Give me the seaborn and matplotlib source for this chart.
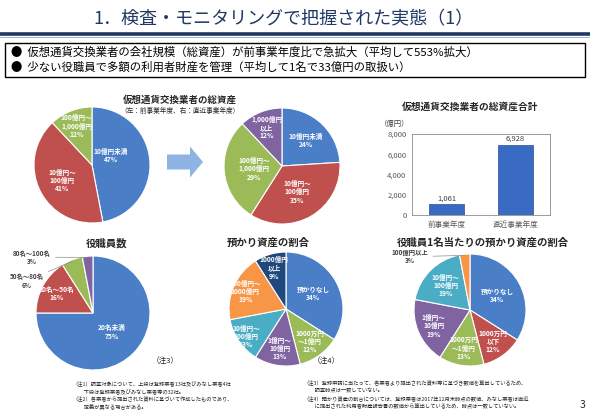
import numpy as np
import pandas as pd
import matplotlib
matplotlib.use("Agg")
import matplotlib.pyplot as plt
import matplotlib.patches as mpatches
import seaborn as sns

W, H = 590, 417

# ---- data ----
prev_asset_labels = ["10億円未満", "10億円～\n100億円", "100億円～\n1,000億円"]
prev_asset_share = [47, 41, 12]

curr_asset_labels = ["10億円未満", "10億円～\n100億円", "100億円～\n1,000億円", "1,000億円\n以上"]
curr_asset_share = [24, 35, 29, 12]

total_years = ["前事業年度", "直近事業年度"]
total_assets = [1061, 6928]
total_ticks = [0, 2000, 4000, 6000, 8000]

staff_labels = ["20名未満", "20名～50名", "50名～80名", "80名～100名"]
staff_share = [75, 16, 6, 3]

deposit_labels = ["預かりなし", "1000万円\n～1億円", "1億円～\n10億円", "10億円～\n100億円",
                  "100億円～\n1000億円", "1000億円\n以上"]
deposit_share = [34, 12, 13, 13, 19, 9]

per_staff_labels = ["預かりなし", "1000万円\n以下", "1000万円\n～1億円", "1億円～\n10億円",
                    "10億円～\n100億円", "100億円以上"]
per_staff_share = [34, 12, 13, 19, 19, 3]

BLUE, RED, GREEN, PURPLE = "#4A7EC7", "#C0504D", "#9BBB59", "#8064A2"
CYAN, ORANGE, NAVY = "#4BACC6", "#F79646", "#1F497D"

sns.set_style("white")
plt.rcParams["font.family"] = ["Noto Sans CJK JP", "DejaVu Sans"]

fig = plt.figure(figsize=(W / 100, H / 100), dpi=100)


def pix_axes(x0, y0, w, h):
    """Axes placed by pixel box (top-left origin)."""
    return fig.add_axes([x0 / W, 1 - (y0 + h) / H, w / W, h / H])


# background layer for slide decorations
bg = pix_axes(0, 0, W, H)
bg.set_xlim(0, W)
bg.set_ylim(H, 0)
bg.axis("off")

bg.text(283, 19, "1．検査・モニタリングで把握された実態（1）", ha="center", va="center",
        fontsize=13, color="#1F3864")
bg.plot([0, W], [34, 34], color="#1F3864", lw=2.6, solid_capstyle="butt")
bg.plot([0, W], [36.5, 36.5], color="#8497B0", lw=0.5)

bg.add_patch(mpatches.Rectangle((5, 43), 580, 34, fill=False, edgecolor="black", lw=1))
bg.text(11, 52.5, "●  仮想通貨交換業者の会社規模（総資産）が前事業年度比で急拡大（平均して553%拡大）",
        ha="left", va="center", fontsize=8.2, color="black")
bg.text(11, 67.5, "●  少ない役職員で多額の利用者財産を管理（平均して1名で33億円の取扱い）",
        ha="left", va="center", fontsize=8.2, color="black")

bg.text(180, 100, "仮想通貨交換業者の総資産", ha="center", va="center", fontsize=6.8,
        fontweight="bold", color="#262626")
bg.text(180, 111, "（左：前事業年度、右：直近事業年度）", ha="center", va="center", fontsize=4.8,
        color="#262626")
bg.text(470, 107, "仮想通貨交換業者の総資産合計", ha="center", va="center", fontsize=7,
        fontweight="bold", color="#262626")
bg.text(395, 124, "（億円）", ha="center", va="center", fontsize=5.3, color="#404040")

bg.text(107, 243, "役職員数", ha="center", va="center", fontsize=7.5, fontweight="bold", color="#262626")
bg.text(268, 243, "預かり資産の割合", ha="center", va="center", fontsize=7.5, fontweight="bold",
        color="#262626")
bg.text(483, 243, "役職員1名当たりの預かり資産の割合", ha="center", va="center", fontsize=7.5,
        fontweight="bold", color="#262626")

bg.text(165, 361, "（注3）", ha="center", va="center", fontsize=5.5, color="#262626")
bg.text(326, 361, "（注4）", ha="center", va="center", fontsize=5.5, color="#262626")

bg.add_patch(mpatches.FancyArrow(167, 162, 36, 0, width=15, head_width=31, head_length=13,
                                 length_includes_head=True, color="#8EB4E3", lw=0))

notes_left = ["（注1）調査対象について、上段は登録業者13社及びみなし業者4社",
              "　　 下段は登録業者及びみなし業者等の32社。",
              "（注2）各業者から提出された資料に基づいて作成したものであり、",
              "　　 定義が異なる場合がある。"]
notes_right = ["（注3）登録申請に当たって、各業者より提出された資料等に基づき数値を算出しているため、",
               "　　 調査時点は一致していない。",
               "（注4）預かり資産の割合については、登録業者は2017年12月末時点の数値、みなし業者は直近",
               "　　 に提出された利用者財産報告書の数値から算出しているため、時点は一致していない。"]
for i, line in enumerate(notes_left):
    bg.text(72, 383 + 8 * i, line, ha="left", va="center", fontsize=3.8, color="#262626")
for i, line in enumerate(notes_right):
    bg.text(303, 383 + 8 * i, line, ha="left", va="center", fontsize=3.8, color="#262626")
bg.text(583, 405, "3", ha="center", va="center", fontsize=7.5, color="#262626")


def draw_pie(cx, cy, r, shares, labels, colors, dists, outside=None, nudge=None):
    ax = pix_axes(cx - r, cy - r, 2 * r, 2 * r)
    wedges, _ = ax.pie(shares, colors=colors, startangle=90, counterclock=False,
                       wedgeprops=dict(edgecolor="white", linewidth=0.8))
    ax.set_xlim(-1, 1)
    ax.set_ylim(-1, 1)
    outside = outside or {}
    nudge = nudge or {}
    for i, (w, lab, v) in enumerate(zip(wedges, labels, shares)):
        txt = "{}\n{}%".format(lab, v)
        mid = np.deg2rad((w.theta1 + w.theta2) / 2 + nudge.get(i, 0))
        if i in outside:
            ax.annotate(txt, xy=(0.98 * np.cos(mid), 0.98 * np.sin(mid)), xytext=outside[i],
                        ha="center", va="center", fontsize=4.6, fontweight="bold",
                        color="#404040", linespacing=1.2, annotation_clip=False,
                        arrowprops=dict(arrowstyle="-", color="#8c8c8c", lw=0.5,
                                        shrinkA=1, shrinkB=0))
        else:
            d = dists[i]
            ax.text(d * np.cos(mid), d * np.sin(mid), txt, ha="center", va="center",
                    fontsize=4.8, fontweight="bold", color="white", linespacing=1.2)
    return ax


draw_pie(92, 165, 58, prev_asset_share, prev_asset_labels, [BLUE, RED, GREEN],
         [0.36, 0.58, 0.72], nudge={0: 22})
draw_pie(282, 166, 58, curr_asset_share, curr_asset_labels, [BLUE, RED, GREEN, PURPLE],
         [0.6, 0.52, 0.48, 0.72])
draw_pie(93, 313, 57, staff_share, staff_labels, [BLUE, RED, GREEN, PURPLE],
         [0.47, 0.72, 0, 0], outside={2: (-1.16, 0.56), 3: (-1.07, 0.98)})
draw_pie(286, 309, 57, deposit_share, deposit_labels, [BLUE, GREEN, PURPLE, CYAN, ORANGE, NAVY],
         [0.55, 0.7, 0.7, 0.85, 0.78, 0.75])
draw_pie(470, 310, 56, per_staff_share, per_staff_labels, [BLUE, RED, GREEN, PURPLE, CYAN, ORANGE],
         [0.55, 0.7, 0.69, 0.71, 0.62, 0], outside={5: (-1.07, 0.95)})

# bar chart of total assets
axb = pix_axes(412, 134, 138, 81)
df = pd.DataFrame({"year": total_years, "assets": total_assets})
sns.barplot(data=df, x="year", y="assets", ax=axb, color="#3A6BC4", width=0.5,
            saturation=1, edgecolor="#2B4F8E", linewidth=0.5)
axb.set_ylim(0, 8000)
axb.set_yticks(total_ticks)
axb.set_yticklabels(["{:,}".format(v) for v in total_ticks])
axb.bar_label(axb.containers[0], labels=["{:,}".format(v) for v in total_assets],
              fontsize=5.5, padding=1.5, color="#404040")
axb.set_xlabel("")
axb.set_ylabel("")
axb.tick_params(length=0, labelsize=5.5, colors="#595959", pad=4)
for s in axb.spines.values():
    s.set_color("#8c8c8c")
    s.set_linewidth(0.6)

fig.savefig("out.png", dpi=100)
